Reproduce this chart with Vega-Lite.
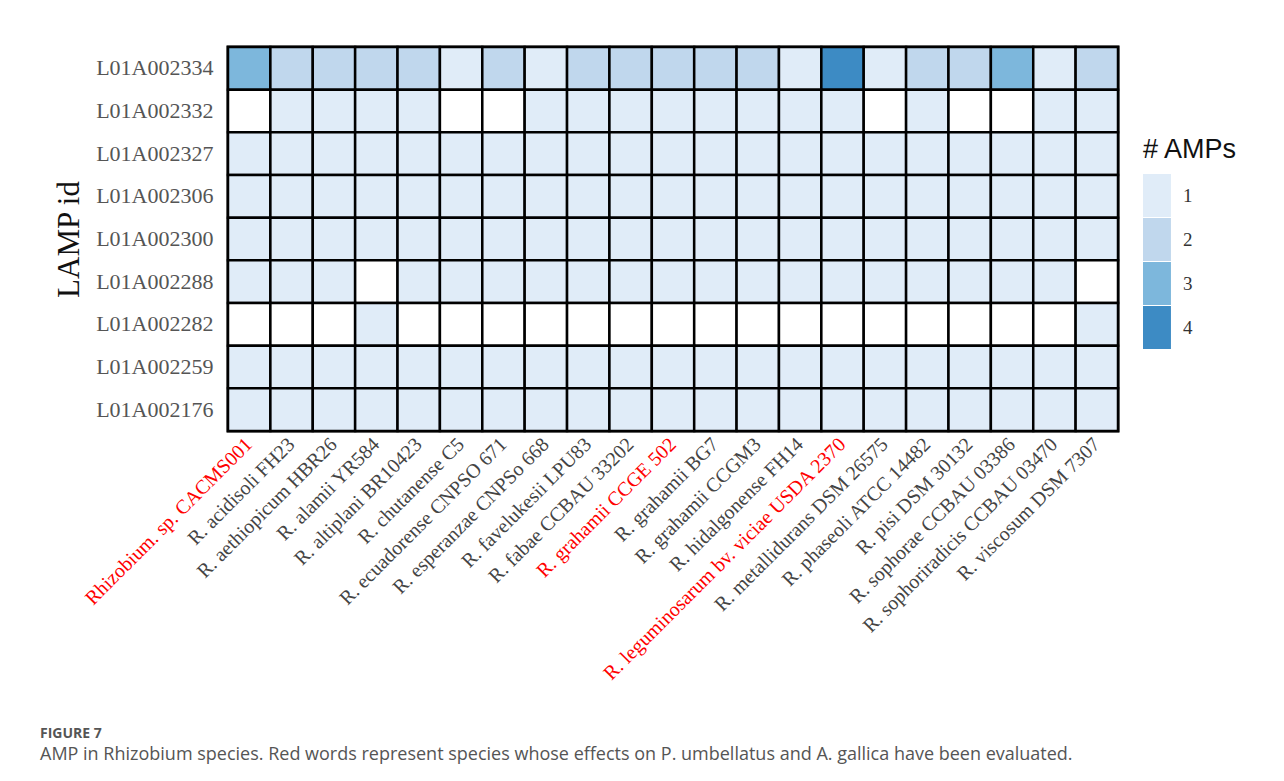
{
  "$schema": "https://vega.github.io/schema/vega-lite/v6.json",
  "autosize": {"type": "none"},
  "width": 890,
  "height": 384,
  "padding": {"left": 228, "top": 47, "right": 166, "bottom": 350},
  "background": "white",
  "title": {
    "text": "FIGURE 7",
    "subtitle": "AMP in Rhizobium species. Red words represent species whose effects on P. umbellatus and A. gallica have been evaluated.",
    "orient": "bottom",
    "anchor": "start",
    "frame": "group",
    "dx": -188,
    "offset": 43,
    "font": "Open Sans",
    "fontSize": 14,
    "fontWeight": "bold",
    "color": "#555555",
    "subtitleFont": "Open Sans",
    "subtitleFontSize": 18,
    "subtitleColor": "#555555",
    "subtitlePadding": 5
  },
  "data": {
    "values": [
      {"s": "Rhizobium. sp. CACMS001", "l": "L01A002334", "n": 3},
      {"s": "R. acidisoli FH23", "l": "L01A002334", "n": 2},
      {"s": "R. aethiopicum HBR26", "l": "L01A002334", "n": 2},
      {"s": "R. alamii YR584", "l": "L01A002334", "n": 2},
      {"s": "R. altiplani BR10423", "l": "L01A002334", "n": 2},
      {"s": "R. chutanense C5", "l": "L01A002334", "n": 1},
      {"s": "R. ecuadorense CNPSO 671", "l": "L01A002334", "n": 2},
      {"s": "R. esperanzae CNPSo 668", "l": "L01A002334", "n": 1},
      {"s": "R. favelukesii LPU83", "l": "L01A002334", "n": 2},
      {"s": "R. fabae CCBAU 33202", "l": "L01A002334", "n": 2},
      {"s": "R. grahamii CCGE 502", "l": "L01A002334", "n": 2},
      {"s": "R. grahamii BG7", "l": "L01A002334", "n": 2},
      {"s": "R. grahamii CCGM3", "l": "L01A002334", "n": 2},
      {"s": "R. hidalgonense FH14", "l": "L01A002334", "n": 1},
      {"s": "R. leguminosarum bv. viciae USDA 2370", "l": "L01A002334", "n": 4},
      {"s": "R. metallidurans DSM 26575", "l": "L01A002334", "n": 1},
      {"s": "R. phaseoli ATCC 14482", "l": "L01A002334", "n": 2},
      {"s": "R. pisi DSM 30132", "l": "L01A002334", "n": 2},
      {"s": "R. sophorae CCBAU 03386", "l": "L01A002334", "n": 3},
      {"s": "R. sophoriradicis CCBAU 03470", "l": "L01A002334", "n": 1},
      {"s": "R. viscosum DSM 7307", "l": "L01A002334", "n": 2},

      {"s": "Rhizobium. sp. CACMS001", "l": "L01A002332", "n": 0},
      {"s": "R. acidisoli FH23", "l": "L01A002332", "n": 1},
      {"s": "R. aethiopicum HBR26", "l": "L01A002332", "n": 1},
      {"s": "R. alamii YR584", "l": "L01A002332", "n": 1},
      {"s": "R. altiplani BR10423", "l": "L01A002332", "n": 1},
      {"s": "R. chutanense C5", "l": "L01A002332", "n": 0},
      {"s": "R. ecuadorense CNPSO 671", "l": "L01A002332", "n": 0},
      {"s": "R. esperanzae CNPSo 668", "l": "L01A002332", "n": 1},
      {"s": "R. favelukesii LPU83", "l": "L01A002332", "n": 1},
      {"s": "R. fabae CCBAU 33202", "l": "L01A002332", "n": 1},
      {"s": "R. grahamii CCGE 502", "l": "L01A002332", "n": 1},
      {"s": "R. grahamii BG7", "l": "L01A002332", "n": 1},
      {"s": "R. grahamii CCGM3", "l": "L01A002332", "n": 1},
      {"s": "R. hidalgonense FH14", "l": "L01A002332", "n": 1},
      {"s": "R. leguminosarum bv. viciae USDA 2370", "l": "L01A002332", "n": 1},
      {"s": "R. metallidurans DSM 26575", "l": "L01A002332", "n": 0},
      {"s": "R. phaseoli ATCC 14482", "l": "L01A002332", "n": 1},
      {"s": "R. pisi DSM 30132", "l": "L01A002332", "n": 0},
      {"s": "R. sophorae CCBAU 03386", "l": "L01A002332", "n": 0},
      {"s": "R. sophoriradicis CCBAU 03470", "l": "L01A002332", "n": 1},
      {"s": "R. viscosum DSM 7307", "l": "L01A002332", "n": 1},

      {"s": "Rhizobium. sp. CACMS001", "l": "L01A002327", "n": 1},
      {"s": "R. acidisoli FH23", "l": "L01A002327", "n": 1},
      {"s": "R. aethiopicum HBR26", "l": "L01A002327", "n": 1},
      {"s": "R. alamii YR584", "l": "L01A002327", "n": 1},
      {"s": "R. altiplani BR10423", "l": "L01A002327", "n": 1},
      {"s": "R. chutanense C5", "l": "L01A002327", "n": 1},
      {"s": "R. ecuadorense CNPSO 671", "l": "L01A002327", "n": 1},
      {"s": "R. esperanzae CNPSo 668", "l": "L01A002327", "n": 1},
      {"s": "R. favelukesii LPU83", "l": "L01A002327", "n": 1},
      {"s": "R. fabae CCBAU 33202", "l": "L01A002327", "n": 1},
      {"s": "R. grahamii CCGE 502", "l": "L01A002327", "n": 1},
      {"s": "R. grahamii BG7", "l": "L01A002327", "n": 1},
      {"s": "R. grahamii CCGM3", "l": "L01A002327", "n": 1},
      {"s": "R. hidalgonense FH14", "l": "L01A002327", "n": 1},
      {"s": "R. leguminosarum bv. viciae USDA 2370", "l": "L01A002327", "n": 1},
      {"s": "R. metallidurans DSM 26575", "l": "L01A002327", "n": 1},
      {"s": "R. phaseoli ATCC 14482", "l": "L01A002327", "n": 1},
      {"s": "R. pisi DSM 30132", "l": "L01A002327", "n": 1},
      {"s": "R. sophorae CCBAU 03386", "l": "L01A002327", "n": 1},
      {"s": "R. sophoriradicis CCBAU 03470", "l": "L01A002327", "n": 1},
      {"s": "R. viscosum DSM 7307", "l": "L01A002327", "n": 1},

      {"s": "Rhizobium. sp. CACMS001", "l": "L01A002306", "n": 1},
      {"s": "R. acidisoli FH23", "l": "L01A002306", "n": 1},
      {"s": "R. aethiopicum HBR26", "l": "L01A002306", "n": 1},
      {"s": "R. alamii YR584", "l": "L01A002306", "n": 1},
      {"s": "R. altiplani BR10423", "l": "L01A002306", "n": 1},
      {"s": "R. chutanense C5", "l": "L01A002306", "n": 1},
      {"s": "R. ecuadorense CNPSO 671", "l": "L01A002306", "n": 1},
      {"s": "R. esperanzae CNPSo 668", "l": "L01A002306", "n": 1},
      {"s": "R. favelukesii LPU83", "l": "L01A002306", "n": 1},
      {"s": "R. fabae CCBAU 33202", "l": "L01A002306", "n": 1},
      {"s": "R. grahamii CCGE 502", "l": "L01A002306", "n": 1},
      {"s": "R. grahamii BG7", "l": "L01A002306", "n": 1},
      {"s": "R. grahamii CCGM3", "l": "L01A002306", "n": 1},
      {"s": "R. hidalgonense FH14", "l": "L01A002306", "n": 1},
      {"s": "R. leguminosarum bv. viciae USDA 2370", "l": "L01A002306", "n": 1},
      {"s": "R. metallidurans DSM 26575", "l": "L01A002306", "n": 1},
      {"s": "R. phaseoli ATCC 14482", "l": "L01A002306", "n": 1},
      {"s": "R. pisi DSM 30132", "l": "L01A002306", "n": 1},
      {"s": "R. sophorae CCBAU 03386", "l": "L01A002306", "n": 1},
      {"s": "R. sophoriradicis CCBAU 03470", "l": "L01A002306", "n": 1},
      {"s": "R. viscosum DSM 7307", "l": "L01A002306", "n": 1},

      {"s": "Rhizobium. sp. CACMS001", "l": "L01A002300", "n": 1},
      {"s": "R. acidisoli FH23", "l": "L01A002300", "n": 1},
      {"s": "R. aethiopicum HBR26", "l": "L01A002300", "n": 1},
      {"s": "R. alamii YR584", "l": "L01A002300", "n": 1},
      {"s": "R. altiplani BR10423", "l": "L01A002300", "n": 1},
      {"s": "R. chutanense C5", "l": "L01A002300", "n": 1},
      {"s": "R. ecuadorense CNPSO 671", "l": "L01A002300", "n": 1},
      {"s": "R. esperanzae CNPSo 668", "l": "L01A002300", "n": 1},
      {"s": "R. favelukesii LPU83", "l": "L01A002300", "n": 1},
      {"s": "R. fabae CCBAU 33202", "l": "L01A002300", "n": 1},
      {"s": "R. grahamii CCGE 502", "l": "L01A002300", "n": 1},
      {"s": "R. grahamii BG7", "l": "L01A002300", "n": 1},
      {"s": "R. grahamii CCGM3", "l": "L01A002300", "n": 1},
      {"s": "R. hidalgonense FH14", "l": "L01A002300", "n": 1},
      {"s": "R. leguminosarum bv. viciae USDA 2370", "l": "L01A002300", "n": 1},
      {"s": "R. metallidurans DSM 26575", "l": "L01A002300", "n": 1},
      {"s": "R. phaseoli ATCC 14482", "l": "L01A002300", "n": 1},
      {"s": "R. pisi DSM 30132", "l": "L01A002300", "n": 1},
      {"s": "R. sophorae CCBAU 03386", "l": "L01A002300", "n": 1},
      {"s": "R. sophoriradicis CCBAU 03470", "l": "L01A002300", "n": 1},
      {"s": "R. viscosum DSM 7307", "l": "L01A002300", "n": 1},

      {"s": "Rhizobium. sp. CACMS001", "l": "L01A002288", "n": 1},
      {"s": "R. acidisoli FH23", "l": "L01A002288", "n": 1},
      {"s": "R. aethiopicum HBR26", "l": "L01A002288", "n": 1},
      {"s": "R. alamii YR584", "l": "L01A002288", "n": 0},
      {"s": "R. altiplani BR10423", "l": "L01A002288", "n": 1},
      {"s": "R. chutanense C5", "l": "L01A002288", "n": 1},
      {"s": "R. ecuadorense CNPSO 671", "l": "L01A002288", "n": 1},
      {"s": "R. esperanzae CNPSo 668", "l": "L01A002288", "n": 1},
      {"s": "R. favelukesii LPU83", "l": "L01A002288", "n": 1},
      {"s": "R. fabae CCBAU 33202", "l": "L01A002288", "n": 1},
      {"s": "R. grahamii CCGE 502", "l": "L01A002288", "n": 1},
      {"s": "R. grahamii BG7", "l": "L01A002288", "n": 1},
      {"s": "R. grahamii CCGM3", "l": "L01A002288", "n": 1},
      {"s": "R. hidalgonense FH14", "l": "L01A002288", "n": 1},
      {"s": "R. leguminosarum bv. viciae USDA 2370", "l": "L01A002288", "n": 1},
      {"s": "R. metallidurans DSM 26575", "l": "L01A002288", "n": 1},
      {"s": "R. phaseoli ATCC 14482", "l": "L01A002288", "n": 1},
      {"s": "R. pisi DSM 30132", "l": "L01A002288", "n": 1},
      {"s": "R. sophorae CCBAU 03386", "l": "L01A002288", "n": 1},
      {"s": "R. sophoriradicis CCBAU 03470", "l": "L01A002288", "n": 1},
      {"s": "R. viscosum DSM 7307", "l": "L01A002288", "n": 0},

      {"s": "Rhizobium. sp. CACMS001", "l": "L01A002282", "n": 0},
      {"s": "R. acidisoli FH23", "l": "L01A002282", "n": 0},
      {"s": "R. aethiopicum HBR26", "l": "L01A002282", "n": 0},
      {"s": "R. alamii YR584", "l": "L01A002282", "n": 1},
      {"s": "R. altiplani BR10423", "l": "L01A002282", "n": 0},
      {"s": "R. chutanense C5", "l": "L01A002282", "n": 0},
      {"s": "R. ecuadorense CNPSO 671", "l": "L01A002282", "n": 0},
      {"s": "R. esperanzae CNPSo 668", "l": "L01A002282", "n": 0},
      {"s": "R. favelukesii LPU83", "l": "L01A002282", "n": 0},
      {"s": "R. fabae CCBAU 33202", "l": "L01A002282", "n": 0},
      {"s": "R. grahamii CCGE 502", "l": "L01A002282", "n": 0},
      {"s": "R. grahamii BG7", "l": "L01A002282", "n": 0},
      {"s": "R. grahamii CCGM3", "l": "L01A002282", "n": 0},
      {"s": "R. hidalgonense FH14", "l": "L01A002282", "n": 0},
      {"s": "R. leguminosarum bv. viciae USDA 2370", "l": "L01A002282", "n": 0},
      {"s": "R. metallidurans DSM 26575", "l": "L01A002282", "n": 0},
      {"s": "R. phaseoli ATCC 14482", "l": "L01A002282", "n": 0},
      {"s": "R. pisi DSM 30132", "l": "L01A002282", "n": 0},
      {"s": "R. sophorae CCBAU 03386", "l": "L01A002282", "n": 0},
      {"s": "R. sophoriradicis CCBAU 03470", "l": "L01A002282", "n": 0},
      {"s": "R. viscosum DSM 7307", "l": "L01A002282", "n": 1},

      {"s": "Rhizobium. sp. CACMS001", "l": "L01A002259", "n": 1},
      {"s": "R. acidisoli FH23", "l": "L01A002259", "n": 1},
      {"s": "R. aethiopicum HBR26", "l": "L01A002259", "n": 1},
      {"s": "R. alamii YR584", "l": "L01A002259", "n": 1},
      {"s": "R. altiplani BR10423", "l": "L01A002259", "n": 1},
      {"s": "R. chutanense C5", "l": "L01A002259", "n": 1},
      {"s": "R. ecuadorense CNPSO 671", "l": "L01A002259", "n": 1},
      {"s": "R. esperanzae CNPSo 668", "l": "L01A002259", "n": 1},
      {"s": "R. favelukesii LPU83", "l": "L01A002259", "n": 1},
      {"s": "R. fabae CCBAU 33202", "l": "L01A002259", "n": 1},
      {"s": "R. grahamii CCGE 502", "l": "L01A002259", "n": 1},
      {"s": "R. grahamii BG7", "l": "L01A002259", "n": 1},
      {"s": "R. grahamii CCGM3", "l": "L01A002259", "n": 1},
      {"s": "R. hidalgonense FH14", "l": "L01A002259", "n": 1},
      {"s": "R. leguminosarum bv. viciae USDA 2370", "l": "L01A002259", "n": 1},
      {"s": "R. metallidurans DSM 26575", "l": "L01A002259", "n": 1},
      {"s": "R. phaseoli ATCC 14482", "l": "L01A002259", "n": 1},
      {"s": "R. pisi DSM 30132", "l": "L01A002259", "n": 1},
      {"s": "R. sophorae CCBAU 03386", "l": "L01A002259", "n": 1},
      {"s": "R. sophoriradicis CCBAU 03470", "l": "L01A002259", "n": 1},
      {"s": "R. viscosum DSM 7307", "l": "L01A002259", "n": 1},

      {"s": "Rhizobium. sp. CACMS001", "l": "L01A002176", "n": 1},
      {"s": "R. acidisoli FH23", "l": "L01A002176", "n": 1},
      {"s": "R. aethiopicum HBR26", "l": "L01A002176", "n": 1},
      {"s": "R. alamii YR584", "l": "L01A002176", "n": 1},
      {"s": "R. altiplani BR10423", "l": "L01A002176", "n": 1},
      {"s": "R. chutanense C5", "l": "L01A002176", "n": 1},
      {"s": "R. ecuadorense CNPSO 671", "l": "L01A002176", "n": 1},
      {"s": "R. esperanzae CNPSo 668", "l": "L01A002176", "n": 1},
      {"s": "R. favelukesii LPU83", "l": "L01A002176", "n": 1},
      {"s": "R. fabae CCBAU 33202", "l": "L01A002176", "n": 1},
      {"s": "R. grahamii CCGE 502", "l": "L01A002176", "n": 1},
      {"s": "R. grahamii BG7", "l": "L01A002176", "n": 1},
      {"s": "R. grahamii CCGM3", "l": "L01A002176", "n": 1},
      {"s": "R. hidalgonense FH14", "l": "L01A002176", "n": 1},
      {"s": "R. leguminosarum bv. viciae USDA 2370", "l": "L01A002176", "n": 1},
      {"s": "R. metallidurans DSM 26575", "l": "L01A002176", "n": 1},
      {"s": "R. phaseoli ATCC 14482", "l": "L01A002176", "n": 1},
      {"s": "R. pisi DSM 30132", "l": "L01A002176", "n": 1},
      {"s": "R. sophorae CCBAU 03386", "l": "L01A002176", "n": 1},
      {"s": "R. sophoriradicis CCBAU 03470", "l": "L01A002176", "n": 1},
      {"s": "R. viscosum DSM 7307", "l": "L01A002176", "n": 1}
    ]
  },
  "mark": {"type": "rect", "stroke": "#000000", "strokeWidth": 2.5, "opacity": 1},
  "encoding": {
    "x": {
      "field": "s",
      "type": "nominal",
      "sort": null,
      "scale": {"paddingInner": 0, "paddingOuter": 0},
      "axis": {
        "title": null,
        "domain": false,
        "ticks": false,
        "labelAngle": -45,
        "labelAlign": "right",
        "labelBaseline": "middle",
        "labelPadding": 10,
        "labelFont": "Liberation Serif",
        "labelFontSize": 20,
        "labelLimit": 0,
        "labelColor": {
          "condition": {
            "test": "indexof(['Rhizobium. sp. CACMS001', 'R. grahamii CCGE 502', 'R. leguminosarum bv. viciae USDA 2370'], datum.value) >= 0",
            "value": "#ff0000"
          },
          "value": "#444444"
        }
      }
    },
    "y": {
      "field": "l",
      "type": "nominal",
      "sort": null,
      "scale": {"paddingInner": 0, "paddingOuter": 0},
      "axis": {
        "title": "LAMP id",
        "titleFont": "Liberation Serif",
        "titleFontSize": 31,
        "titleFontWeight": "normal",
        "titleColor": "#111111",
        "titlePadding": 10,
        "domain": false,
        "ticks": false,
        "labelFont": "Liberation Serif",
        "labelFontSize": 22,
        "labelColor": "#555555",
        "labelPadding": 15
      }
    },
    "color": {
      "field": "n",
      "type": "ordinal",
      "scale": {
        "domain": [0, 1, 2, 3, 4],
        "range": ["#ffffff", "#e0ecf8", "#c0d7ed", "#7db7dc", "#3d8bc4"]
      },
      "legend": {
        "title": "# AMPs",
        "values": [1, 2, 3, 4],
        "orient": "none",
        "legendX": 915,
        "legendY": 90,
        "titleFont": "Liberation Sans",
        "titleFontSize": 27,
        "titleFontWeight": "normal",
        "titleColor": "#111111",
        "titlePadding": 10,
        "symbolType": "M-1,-1H0.3V1H-1Z",
        "symbolSize": 1849,
        "symbolStrokeWidth": 0,
        "symbolOpacity": 1,
        "rowPadding": 1,
        "labelFont": "Liberation Serif",
        "labelFontSize": 19,
        "labelColor": "#333333",
        "labelOffset": -3
      }
    }
  },
  "config": {
    "view": {"stroke": "#000000", "strokeWidth": 3}
  }
}
